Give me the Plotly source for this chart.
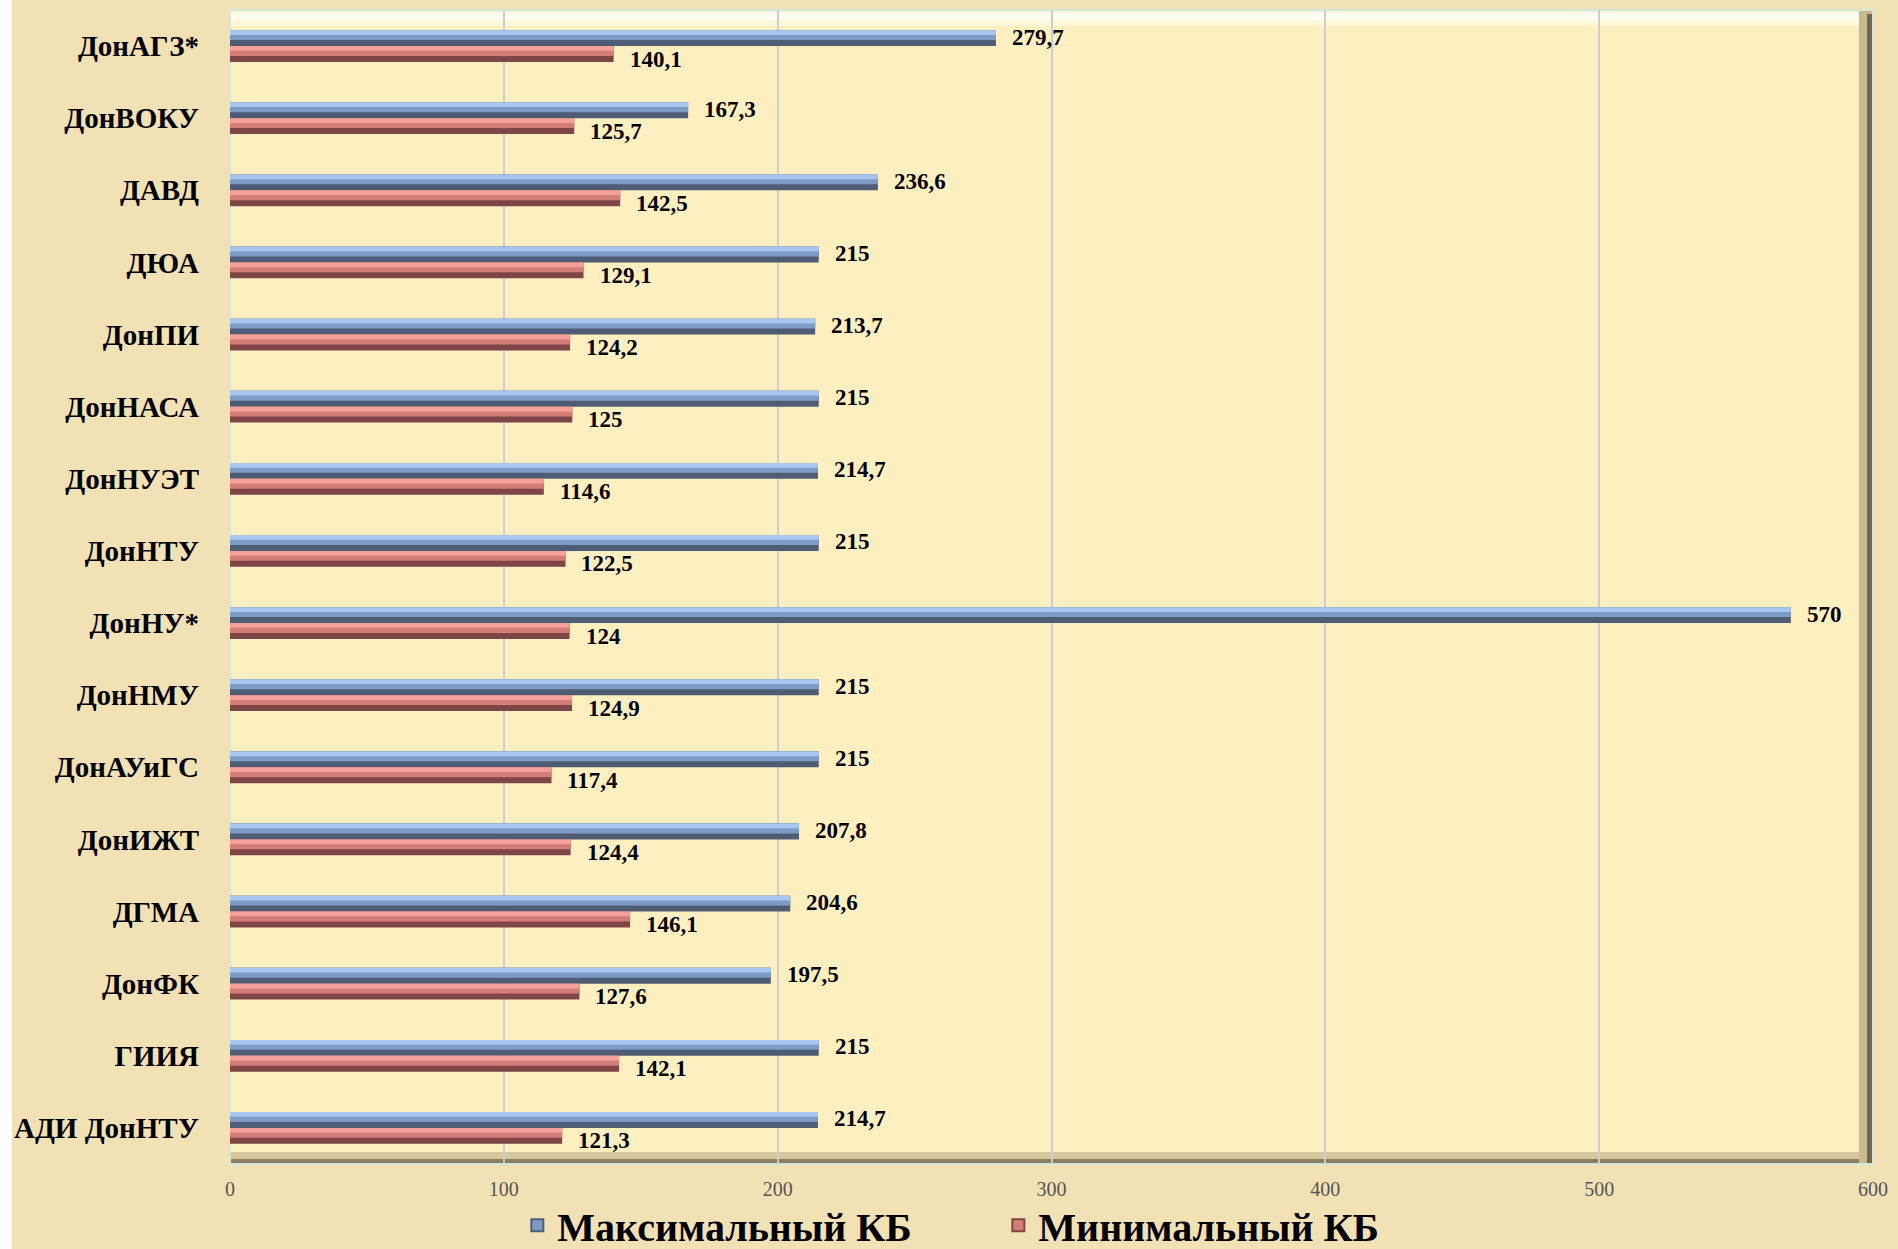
import plotly.graph_objects as go

categories = ["ДонАГЗ*", "ДонВОКУ", "ДАВД", "ДЮА", "ДонПИ", "ДонНАСА", "ДонНУЭТ", "ДонНТУ",
              "ДонНУ*", "ДонНМУ", "ДонАУиГС", "ДонИЖТ", "ДГМА", "ДонФК", "ГИИЯ", "АДИ ДонНТУ"]
max_kb = [279.7, 167.3, 236.6, 215, 213.7, 215, 214.7, 215, 570, 215, 215, 207.8, 204.6, 197.5, 215, 214.7]
min_kb = [140.1, 125.7, 142.5, 129.1, 124.2, 125, 114.6, 122.5, 124, 124.9, 117.4, 124.4, 146.1, 127.6, 142.1, 121.3]
series_names = ["Максимальный КБ", "Минимальный КБ"]
x_ticks = [0, 100, 200, 300, 400, 500, 600]

W, H = 1898, 1249
ML, MR, MT, MB = 230, 25, 10, 85
PW, PH = W - ML - MR, H - MT - MB

BW = 0.22  # bar thickness in category units

fig = go.Figure()


def add_bar(values, name, off, colors, legend_color):
    fig.add_trace(go.Bar(x=values, y=categories, orientation="h", name=name,
                         offset=off, width=BW, marker=dict(color=colors[0], line=dict(width=0)),
                         showlegend=False, hoverinfo="skip"))
    fig.add_trace(go.Bar(x=values, y=categories, orientation="h", name=name,
                         offset=off, width=BW * 0.62, marker=dict(color=colors[1], line=dict(width=0)),
                         showlegend=False, hoverinfo="skip"))
    fig.add_trace(go.Bar(x=values, y=categories, orientation="h", name=name,
                         offset=off, width=BW * 0.3, marker=dict(color=colors[2], line=dict(width=0)),
                         showlegend=False, hoverinfo="skip"))
    fig.add_trace(go.Bar(x=[None], y=[None], orientation="h", name=name,
                         marker=dict(color=legend_color, line=dict(color=colors[0], width=2)),
                         showlegend=True))


add_bar(max_kb, series_names[0], -BW, ["#4E5D75", "#7E9BC6", "#A9C6EE"], "#7E9BC6")
add_bar(min_kb, series_names[1], 0.0, ["#7E4646", "#D47C76", "#F3A19A"], "#D47C76")


def fmt(v):
    return ("%g" % v).replace(".", ",")


lab_font = dict(family="Liberation Serif", size=23, color="black", weight="bold")
for c, v in zip(categories, max_kb):
    fig.add_annotation(x=v, y=c, text=fmt(v), showarrow=False, xanchor="left", yanchor="middle",
                       xshift=14, yshift=9, font=lab_font)
for c, v in zip(categories, min_kb):
    fig.add_annotation(x=v, y=c, text=fmt(v), showarrow=False, xanchor="left", yanchor="middle",
                       xshift=14, yshift=-13, font=lab_font)

dx = 1.0 / PW
dy = 1.0 / PH
shapes = [
    dict(type="rect", xref="paper", yref="paper", x0=-ML * dx - 0.01, x1=(-ML + 12) * dx,
         y0=-MB * dy - 0.01, y1=1 + MT * dy + 0.01, fillcolor="white", line=dict(width=0), layer="below"),
    dict(type="rect", xref="paper", yref="paper", x0=0, x1=1, y0=1 - 16 * dy, y1=1,
         fillcolor="#FFF7DA", line=dict(width=0), layer="below"),
    dict(type="rect", xref="paper", yref="paper", x0=0, x1=1 - 14 * dx, y0=1 - 10 * dy, y1=1 - 3 * dy,
         fillcolor="#FFFDF0", line=dict(width=0), layer="below"),
    dict(type="rect", xref="paper", yref="paper", x0=0, x1=1, y0=0, y1=12 * dy,
         fillcolor="#D8C79A", line=dict(width=0), layer="below"),
    dict(type="rect", xref="paper", yref="paper", x0=0, x1=1, y0=0, y1=5 * dy,
         fillcolor="#8A7E62", line=dict(width=0), layer="below"),
    dict(type="rect", xref="paper", yref="paper", x0=1 - 14 * dx, x1=1, y0=0, y1=1,
         fillcolor="#C9B98C", line=dict(width=0), layer="below"),
    dict(type="rect", xref="paper", yref="paper", x0=1 - 6 * dx, x1=1, y0=0, y1=1 - 4 * dy,
         fillcolor="#6E6656", line=dict(width=0), layer="below"),
    dict(type="rect", xref="paper", yref="paper", x0=0, x1=1, y0=0, y1=1,
         fillcolor="rgba(0,0,0,0)", line=dict(color="#D7E6DC", width=2), layer="below"),
]

fig.update_layout(
    width=W, height=H,
    margin=dict(l=ML, r=MR, t=MT, b=MB, autoexpand=False),
    paper_bgcolor="#F3E1B6",
    plot_bgcolor="#FEEFC0",
    barmode="overlay",
    shapes=shapes,
    xaxis=dict(range=[0, 600], tickvals=x_ticks, ticktext=[str(t) for t in x_ticks],
               showgrid=True, gridcolor="#CBCDD2", gridwidth=1.5, zeroline=False,
               showline=False, ticks="", ticklabelstandoff=11, automargin=False,
               tickfont=dict(family="Liberation Serif", size=20, color="#555555")),
    yaxis=dict(categoryorder="array", categoryarray=categories, autorange="reversed",
               showgrid=False, zeroline=False, showline=False, ticks="", ticklabelstandoff=30,
               automargin=False,
               tickfont=dict(family="Liberation Serif", size=29, color="black", weight="bold")),
    legend=dict(orientation="h", xref="container", yref="container", x=0.526, y=0.019,
                xanchor="center", yanchor="middle", bgcolor="rgba(0,0,0,0)",
                font=dict(family="Liberation Serif", size=40, color="black", weight="bold"),
                itemwidth=30, tracegroupgap=0, entrywidth=436),
    showlegend=True,
)

fig.write_html("out.html", config={"displayModeBar": False},
               post_script="document.body.style.margin='0';document.body.style.overflow='hidden';")
